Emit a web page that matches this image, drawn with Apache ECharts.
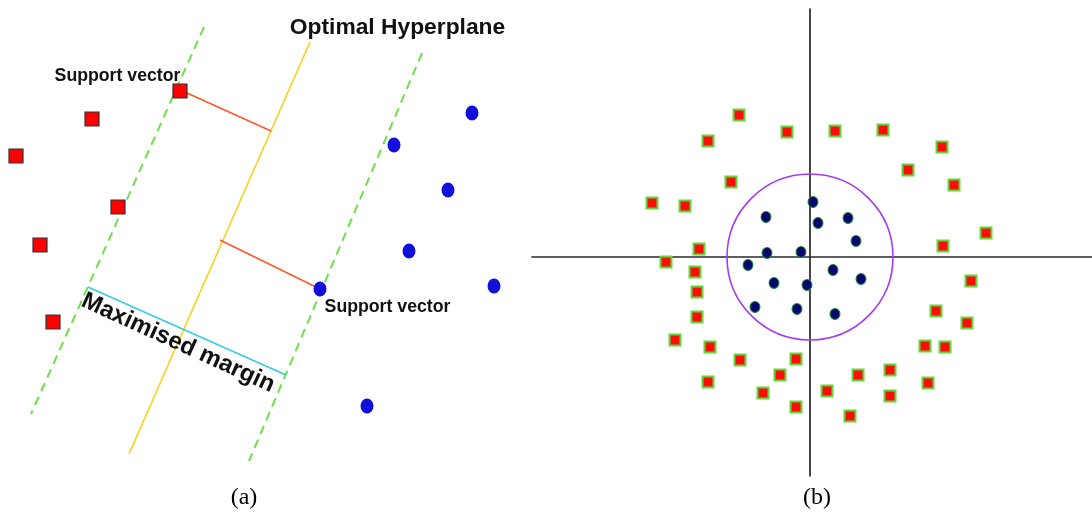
<!DOCTYPE html>
<html>
<head>
<meta charset="utf-8">
<script src="https://cdn.jsdelivr.net/npm/echarts@6/dist/echarts.min.js"></script>
<style>html,body{margin:0;padding:0;background:#fff}#c{width:1092px;height:521px}</style>
</head>
<body>
<div id="c"></div>
<script>
// ---------- Panel (a): linear SVM (coordinates in panel units, y downward) ----------
const redSquaresA = [[180,91],[92,119],[16,156],[118,207],[40,245],[53,322]];
const blueDotsA = [[472,113],[394,145],[448,190],[409,251],[320,289],[494,286],[367,406]];
const hyperplaneA = [[310,42],[129,454]];
const marginLeftA = [[204,27],[31,414]];
const marginRightA = [[422,53],[249,461]];
const supportLink1 = [[187,93],[271,131]];
const supportLink2 = [[220,240],[318,288]];
const marginBar = [[88,287],[286,375]];
const labelsA = [
  {name:'Optimal Hyperplane', value:[397.5,28], size:22.8, rot:0},
  {name:'Support vector', value:[117.5,76], size:17.7, rot:0},
  {name:'Support vector', value:[387.5,307.5], size:17.7, rot:0},
  {name:'Maximised margin', value:[178,343], size:24, rot:-24.5}
];

// ---------- Panel (b): non-linear separation (origin at axis crossing, y up) ----------
const redSquaresB = [
  [-71,142],[-102,116],[-23,125],[25,126],[73,127],[132,110],[98,87],[144,72],
  [-79,75],[-158,54],[-125,51],[176,24],[133,11],[-111,8],
  [-144,-5],[-115,-15],[-113,-35],[-113,-60],[-135,-83],[-100,-90],[-70,-103],
  [-14,-102],[-30,-118],[-102,-125],[-47,-136],[-14,-150],[17,-134],[48,-118],
  [80,-113],[40,-159],[80,-139],[118,-126],[115,-89],[135,-90],[157,-66],
  [126,-54],[161,-24]
];
const blueDotsB = [
  [3,55],[-44,40],[8,34],[38,39],[46,16],[-43,4],[-9,5],
  [-62,-8],[-36,-26],[-3,-28],[23,-13],[51,-22],[-55,-50],[-13,-52],[25,-57]
];
const boundaryB = [[0,0,83]]; // centre x, centre y, radius

const chart = echarts.init(document.getElementById('c'), null, {renderer:'canvas'});

function lineSeries(data, color, width, type){
  return {type:'line', xAxisIndex:0, yAxisIndex:0, data:data, symbol:'none',
    lineStyle:{color:color, width:width, type:type||'solid'}, silent:true, z:2, animation:false};
}

chart.setOption({
  backgroundColor:'#ffffff',
  animation:false,
  grid:[
    {left:0, top:0, width:530, height:480},
    {left:532, top:9, width:560, height:467}
  ],
  xAxis:[
    {gridIndex:0, type:'value', min:0, max:530, show:false},
    {gridIndex:1, type:'value', min:-278, max:282,
     axisLine:{show:true, onZero:true, lineStyle:{color:'#2a2a2a', width:1.6}},
     axisTick:{show:false}, axisLabel:{show:false}, splitLine:{show:false}}
  ],
  yAxis:[
    {gridIndex:0, type:'value', min:0, max:480, inverse:true, show:false},
    {gridIndex:1, type:'value', min:-219, max:248,
     axisLine:{show:true, onZero:true, lineStyle:{color:'#1a1a1a', width:1.6}},
     axisTick:{show:false}, axisLabel:{show:false}, splitLine:{show:false}}
  ],
  graphic:[
    {type:'text', x:244, y:498, z:10,
     style:{text:'(a)', font:'24px "Liberation Serif", "Times New Roman", serif', fill:'#000', textAlign:'center', textVerticalAlign:'middle'}},
    {type:'text', x:817, y:498, z:10,
     style:{text:'(b)', font:'24px "Liberation Serif", "Times New Roman", serif', fill:'#000', textAlign:'center', textVerticalAlign:'middle'}}
  ],
  series:[
    lineSeries(marginLeftA, '#6ee04a', 2, [9,6]),
    lineSeries(marginRightA, '#6ee04a', 2, [9,6]),
    lineSeries(hyperplaneA, '#f6d21a', 1.6),
    lineSeries(supportLink1, '#ff5a2a', 1.6),
    lineSeries(supportLink2, '#ff5a2a', 1.6),
    lineSeries(marginBar, '#35cbea', 1.6),
    {type:'scatter', xAxisIndex:0, yAxisIndex:0, data:redSquaresA, symbol:'rect', symbolSize:14,
     itemStyle:{color:'#ff0000', borderColor:'#333333', borderWidth:1.2, opacity:1}, z:4},
    {type:'scatter', xAxisIndex:0, yAxisIndex:0, data:blueDotsA, symbol:'circle', symbolSize:[13,15],
     itemStyle:{color:'#1010d8', opacity:1}, z:4},
    {type:'scatter', xAxisIndex:0, yAxisIndex:0, symbolSize:1, itemStyle:{color:'rgba(0,0,0,0)', opacity:1}, z:6, silent:true,
     data:labelsA.map(d=>({name:d.name, value:d.value,
       label:{show:true, position:'inside', formatter:'{b}', rotate:d.rot,
         fontFamily:'"Liberation Sans", Arial, sans-serif', fontWeight:'bold', fontSize:d.size, color:'#111'}}))},
    {type:'custom', xAxisIndex:1, yAxisIndex:1, data:boundaryB, z:3, silent:true,
     renderItem:function(params, api){
       const c = api.coord([api.value(0), api.value(1)]);
       const r = api.size([api.value(2), api.value(2)]);
       return {type:'ellipse', shape:{cx:c[0], cy:c[1], rx:r[0], ry:r[1]},
         style:{fill:null, stroke:'#a43cf0', lineWidth:1.6}};
     }},
    {type:'scatter', xAxisIndex:1, yAxisIndex:1, data:redSquaresB, symbol:'rect', symbolSize:11,
     itemStyle:{color:'#ff0d0d', borderColor:'#5ed83a', borderWidth:2, opacity:1}, z:4},
    {type:'scatter', xAxisIndex:1, yAxisIndex:1, data:blueDotsB, symbol:'circle', symbolSize:[10,11],
     itemStyle:{color:'#06066e', borderColor:'#1f8f3a', borderWidth:1, opacity:1}, z:4}
  ]
});
</script>
</body>
</html>
